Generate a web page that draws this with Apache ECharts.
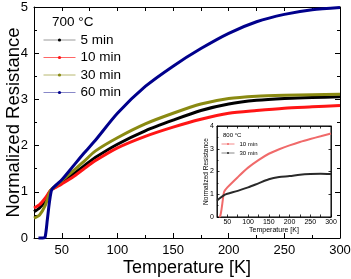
<!DOCTYPE html>
<html>
<head>
<meta charset="utf-8">
<script src="https://cdn.jsdelivr.net/npm/echarts@6/dist/echarts.min.js"></script>
<style>
  html, body { margin: 0; padding: 0; background: #fff; }
  #chart { width: 351px; height: 279px; }
</style>
</head>
<body>
<div id="chart"></div>
<script>
// main panel, 700 °C anneal
const temps = [25, 30, 35, 40, 45, 50, 60, 70, 80, 100, 125, 150, 175, 200, 225, 250, 275, 300];
const r5min = [0.57, 0.65, 0.8, 1.03, 1.12, 1.2, 1.38, 1.56, 1.74, 2.03, 2.32, 2.55, 2.76, 2.9, 2.98, 3.02, 3.04, 3.06];
const r10min = [0.65, 0.72, 0.86, 1.03, 1.1, 1.17, 1.32, 1.5, 1.67, 1.95, 2.2, 2.4, 2.57, 2.7, 2.76, 2.81, 2.84, 2.87];
const r30min = [0.43, 0.5, 0.7, 1.03, 1.14, 1.24, 1.45, 1.66, 1.88, 2.17, 2.47, 2.7, 2.9, 3.02, 3.07, 3.09, 3.1, 3.11];
const temps60 = [29, 33, 35, 37, 39, 41, 45, 50, 60, 70, 80, 100, 125, 150, 175, 200, 225, 250, 275, 300];
const r60min = [0, 0, 0.02, 0.4, 0.8, 1.05, 1.15, 1.26, 1.55, 1.84, 2.11, 2.7, 3.28, 3.72, 4.1, 4.43, 4.68, 4.84, 4.94, 4.99];

// inset, 800 °C anneal
const insetTempsA = [30, 33, 36, 39, 42, 50, 75, 100, 125, 150, 175, 200, 225, 250, 275, 300];
const insetA10 = [0, 0.05, 0.35, 0.75, 1.1, 1.3, 1.75, 2.17, 2.5, 2.78, 2.98, 3.15, 3.3, 3.43, 3.55, 3.67];
const insetTempsB = [25, 30, 43, 50, 75, 100, 125, 150, 175, 200, 225, 250, 275, 300];
const insetB30 = [0.72, 0.8, 0.97, 1.02, 1.15, 1.3, 1.48, 1.66, 1.76, 1.8, 1.86, 1.89, 1.9, 1.89];

const xMajor = [50, 100, 150, 200, 250, 300];
const xMinor = [75, 125, 175, 225, 275];
const xTop = [50, 75, 100, 125, 150, 175, 200, 225, 250, 275];

const zip = (xs, ys) => xs.map((x, i) => [x, ys[i]]);
const font = 'Liberation Sans, Arial, sans-serif';

const chart = echarts.init(document.getElementById('chart'));

function frameAxis(extra) {
  return Object.assign({
    type: 'value',
    nameMoveOverlap: false,
    axisLine: { show: true, onZero: false, lineStyle: { color: '#000', width: 1 } },
    splitLine: { show: false },
    axisLabel: { show: false },
  }, extra);
}

const option = {
  animation: false,
  backgroundColor: '#fff',
  textStyle: { fontFamily: font },
  title: [
    { text: '700 °C', left: 52, top: 15, padding: 0, textStyle: { fontSize: 13.5, fontWeight: 'normal', color: '#000', fontFamily: font } },
    { text: '800 °C', left: 223, top: 132, padding: 0, textStyle: { fontSize: 6, fontWeight: 'normal', color: '#000', fontFamily: font } },
  ],
  legend: [
    {
      orient: 'vertical', left: 43, top: 33, padding: 0, itemWidth: 32, itemHeight: 4, itemGap: 3.5,
      textStyle: { fontSize: 13.5, lineHeight: 14, color: '#000', fontFamily: font },
      data: [
        { name: '5 min', lineStyle: { color: '#9a9a9a', width: 1 } },
        { name: '10 min', lineStyle: { color: '#ff6666', width: 1 } },
        { name: '30 min', lineStyle: { color: '#b8b870', width: 1 } },
        { name: '60 min', lineStyle: { color: '#8888c8', width: 1 } },
      ],
    },
    {
      orient: 'vertical', left: 221, top: 141, padding: 0, itemWidth: 13, itemHeight: 2.5, itemGap: 3,
      textStyle: { fontSize: 6, lineHeight: 6, color: '#000', fontFamily: font },
      data: [
        { name: '10 min ', lineStyle: { color: '#f48a8a', width: 1 } },
        { name: '30 min ', lineStyle: { color: '#888', width: 1 } },
      ],
    },
  ],
  grid: [
    { left: 34, right: 11, top: 7, bottom: 41, containLabel: false, outerBoundsMode: 'none' },
    { left: 217, right: 20, top: 126, bottom: 62, containLabel: false, outerBoundsMode: 'none',
      show: true, backgroundColor: '#fff', borderColor: '#000', borderWidth: 1 },
  ],
  xAxis: [
    frameAxis({
      gridIndex: 0, position: 'bottom', min: 25, max: 300,
      axisTick: { inside: true, length: 5, customValues: xMajor, lineStyle: { color: '#000' } },
      axisLabel: { show: true, customValues: xMajor, fontSize: 13, color: '#000', margin: 6, fontFamily: font },
      name: 'Temperature [K]', nameLocation: 'middle', nameGap: 21,
      nameTextStyle: { fontSize: 18, color: '#000', fontFamily: font },
    }),
    frameAxis({
      gridIndex: 0, position: 'bottom', min: 25, max: 300, axisLine: { show: false },
      axisTick: { inside: true, length: 3, customValues: xMinor, lineStyle: { color: '#000' } },
    }),
    frameAxis({
      gridIndex: 0, position: 'top', min: 25, max: 300,
      axisTick: { inside: true, length: 4, customValues: xTop, lineStyle: { color: '#000' } },
    }),
    frameAxis({
      gridIndex: 1, position: 'bottom', min: 25, max: 300,
      axisLine: { show: true, onZero: false, lineStyle: { color: '#000', width: 0.8 } },
      axisTick: { inside: true, length: 2.5, customValues: xTop.concat([300]), lineStyle: { color: '#000', width: 0.8 } },
      axisLabel: { show: true, customValues: xMajor, fontSize: 7, color: '#000', margin: 2, fontFamily: font },
      name: 'Temperature [K]', nameLocation: 'middle', nameGap: 10,
      nameTextStyle: { fontSize: 7, color: '#000', fontFamily: font },
    }),
    frameAxis({
      gridIndex: 1, position: 'top', min: 25, max: 300,
      axisLine: { show: true, onZero: false, lineStyle: { color: '#000', width: 0.8 } },
      axisTick: { inside: true, length: 2.5, customValues: xTop, lineStyle: { color: '#000', width: 0.8 } },
    }),
  ],
  yAxis: [
    frameAxis({
      gridIndex: 0, position: 'left', min: 0, max: 5, interval: 1,
      axisTick: { inside: true, length: 5, lineStyle: { color: '#000' } },
      minorTick: { show: true, splitNumber: 2, length: 3, lineStyle: { color: '#000' } },
      axisLabel: { show: true, fontSize: 13, color: '#000', margin: 6, fontFamily: font },
      name: 'Normalized Resistance', nameLocation: 'middle', nameGap: 11,
      nameTextStyle: { fontSize: 18.5, color: '#000', fontFamily: font },
    }),
    frameAxis({
      gridIndex: 0, position: 'right', min: 0, max: 5, interval: 1,
      axisTick: { inside: true, length: 5, lineStyle: { color: '#000' } },
      minorTick: { show: true, splitNumber: 2, length: 3, lineStyle: { color: '#000' } },
    }),
    frameAxis({
      gridIndex: 1, position: 'left', min: 0, max: 4, interval: 1,
      axisLine: { show: true, onZero: false, lineStyle: { color: '#000', width: 0.8 } },
      axisTick: { inside: true, length: 2.5, lineStyle: { color: '#000', width: 0.8 } },
      minorTick: { show: true, splitNumber: 2, length: 1.5, lineStyle: { color: '#000', width: 0.8 } },
      axisLabel: { show: true, fontSize: 7, color: '#000', margin: 3, fontFamily: font },
      name: 'Normalized Resistance', nameLocation: 'middle', nameGap: 7,
      nameTextStyle: { fontSize: 6.5, color: '#000', fontFamily: font },
    }),
    frameAxis({
      gridIndex: 1, position: 'right', min: 0, max: 4, interval: 1,
      axisLine: { show: true, onZero: false, lineStyle: { color: '#000', width: 0.8 } },
      axisTick: { inside: true, length: 2.5, lineStyle: { color: '#000', width: 0.8 } },
    }),
  ],
  series: [
    { name: '5 min', color: '#000000', data: zip(temps, r5min) },
    { name: '10 min', color: '#ff1515', data: zip(temps, r10min) },
    { name: '30 min', color: '#8a8a12', data: zip(temps, r30min) },
    { name: '60 min', color: '#00008c', data: zip(temps60, r60min) },
  ].map(s => Object.assign({
    type: 'line', xAxisIndex: 0, yAxisIndex: 0, smooth: 0.25, clip: false,
    symbol: 'circle', symbolSize: 4, showSymbol: false,
    lineStyle: { width: 3, color: s.color }, itemStyle: { color: s.color },
  }, s)).concat([
    { name: '10 min ', color: '#f06a6a', data: zip(insetTempsA, insetA10) },
    { name: '30 min ', color: '#2a2a2a', data: zip(insetTempsB, insetB30) },
  ].map(s => Object.assign({
    type: 'line', xAxisIndex: 3, yAxisIndex: 2, smooth: 0.25, clip: false,
    symbol: 'circle', symbolSize: 2, showSymbol: false, z: 5,
    lineStyle: { width: 2, color: s.color }, itemStyle: { color: s.color },
  }, s))),
};

chart.setOption(option);
</script>
</body>
</html>
